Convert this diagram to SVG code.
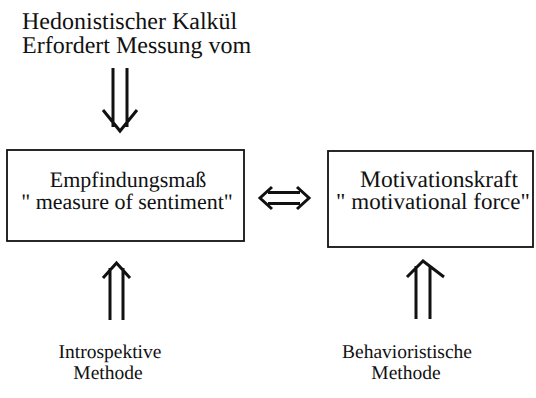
<svg xmlns="http://www.w3.org/2000/svg" width="536" height="398" viewBox="0 0 536 398">
<style>
text{font-family:"Liberation Serif","Times New Roman",serif;fill:#111;text-anchor:middle;text-rendering:geometricPrecision}
.hd{font-size:24px;text-anchor:start}
.bx{font-size:22px}
.bx2{font-size:23px}
.lb{font-size:19.5px}
.box{fill:none;stroke:#111;stroke-width:1.8}
.arr{fill:none;stroke:#111;stroke-width:3;stroke-linecap:butt;stroke-linejoin:miter}
</style>
<rect width="536" height="398" fill="#fff"/>
<g id="header">
<text class="hd" x="22" y="29">Hedonistischer Kalkül</text>
<text class="hd" x="22" y="53">Erfordert Messung vom</text>
</g>
<g id="node-empfindung">
<rect class="box" x="7" y="150" width="237" height="91"/>
<text class="bx" x="128" y="187">Empfindungsmaß</text>
<text class="bx" x="127" y="209">" measure of sentiment"</text>
</g>
<g id="node-motivation">
<rect class="box" x="328" y="151" width="205" height="96"/>
<text class="bx2" x="439" y="187" style="font-size:23.5px">Motivationskraft</text>
<text class="bx2" x="433" y="209">" motivational force"</text>
</g>
<g id="label-introspektive">
<text class="lb" x="110" y="358">Introspektive</text>
<text class="lb" x="108" y="379">Methode</text>
</g>
<g id="label-behavioristische">
<text class="lb" x="407" y="358">Behavioristische</text>
<text class="lb" x="406" y="379">Methode</text>
</g>
<g id="connectors">
<path class="arr" d="M113 68V127M127 68V127M103 110L120 131L137 110"/>
<path class="arr" d="M110 320V268M123 320V268M103 278L116.5 263L130 278"/>
<path class="arr" d="M416 319V266M430 319V266M407 277L423 261L444 277"/>
<path class="arr" d="M268 192.5H300M268 203.5H300M272 187L260 198L272 209M297 187L309 198L297 209"/>
</g>
</svg>
